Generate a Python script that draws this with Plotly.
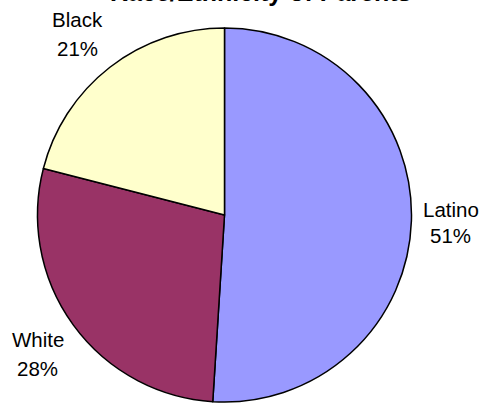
import plotly.graph_objects as go

title = "Race/Ethnicity of Parents"
categories = ["Latino", "White", "Black"]
values = [51, 28, 21]
pct_labels = ["51%", "28%", "21%"]
colors = ["#9999FF", "#993366", "#FFFFCC"]

W, H = 481, 404
ml, mr, mt, mb = 37, 69, 28, 2
pw, ph = W - ml - mr, H - mt - mb

def px(x):
    return (x - ml) / pw

def py(y):
    return 1 - (y - mt) / ph

fig = go.Figure(go.Pie(
    labels=categories,
    values=values,
    sort=False,
    direction="clockwise",
    rotation=0,
    marker=dict(colors=colors, line=dict(color="black", width=1.5)),
    textinfo="none",
    hoverinfo="label+percent",
    showlegend=False,
))

# label positions in window pixels (centres of the name line and the percent line)
label_pos = {
    "Latino": (451, 209.5, 450.5, 235),
    "White": (38, 339.5, 37.5, 368),
    "Black": (77, 19.8, 77, 48.3),
}
font = dict(family="Liberation Sans, Arial, sans-serif", size=20.5, color="black")
ann = []
for cat, pct in zip(categories, pct_labels):
    x1, y1, x2, y2 = label_pos[cat]
    ann.append(dict(text=cat, x=px(x1), y=py(y1), xref="paper", yref="paper",
                    xanchor="center", yanchor="middle", showarrow=False, font=font))
    ann.append(dict(text=pct, x=px(x2), y=py(y2), xref="paper", yref="paper",
                    xanchor="center", yanchor="middle", showarrow=False, font=font))
ann.append(dict(text="<b>" + title + "</b>", x=px(260), y=py(-8), xref="paper", yref="paper",
                xanchor="center", yanchor="middle", showarrow=False,
                font=dict(family="Liberation Sans, Arial, sans-serif", size=25, color="black")))

fig.update_layout(
    width=W, height=H,
    margin=dict(l=ml, r=mr, t=mt, b=mb),
    paper_bgcolor="white",
    plot_bgcolor="white",
    annotations=ann,
)

fig.write_html(
    "out.html",
    config={"displayModeBar": False},
    post_script="document.body.style.margin='0';document.body.style.overflow='hidden';",
)
